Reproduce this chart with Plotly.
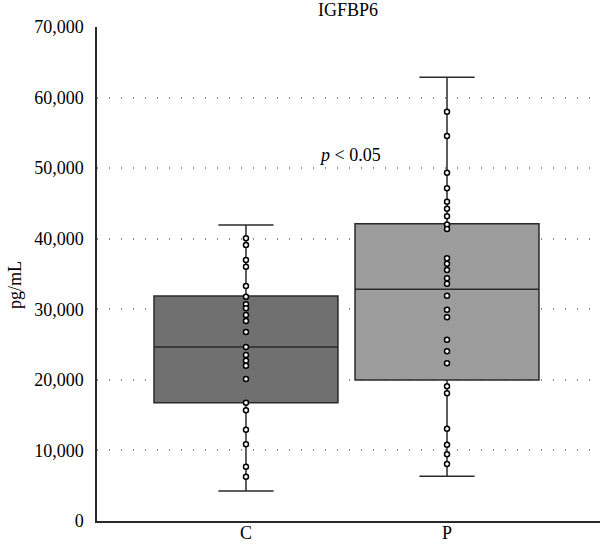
import plotly.graph_objects as go

categories = ["C", "P"]
cat_pos = [0, 1]

# box statistics (pg/mL)
q1 = [16760, 19980]
median = [24660, 32830]
q3 = [31880, 42130]
lower_whisker = [4250, 6330]
upper_whisker = [41940, 62870]

# individual data points
points_C = [40060, 39110, 36990, 36040, 33300, 31790, 30710, 30140, 29190, 28340,
            26780, 24660, 23520, 22720, 22010, 20120, 16770, 15690, 12940, 10870,
            7700, 6280]
points_P = [58000, 54560, 49360, 47140, 45250, 44260, 43180, 42000, 41380, 37230,
            36470, 35570, 34390, 33630, 31930, 29940, 28860, 25690, 24040, 22340,
            19090, 18100, 13080, 10810, 9450, 8080]

box_colors = ["#707070", "#9c9c9c"]
y_ticks = [0, 10000, 20000, 30000, 40000, 50000, 60000, 70000]
y_tick_text = ["0", "10,000", "20,000", "30,000", "40,000", "50,000", "60,000", "70,000"]

FONT = "Liberation Serif"

fig = go.Figure()
for i in range(2):
    fig.add_trace(go.Box(
        x=[cat_pos[i]], q1=[q1[i]], median=[median[i]], q3=[q3[i]],
        lowerfence=[lower_whisker[i]], upperfence=[upper_whisker[i]],
        width=0.915, whiskerwidth=0.3, fillcolor=box_colors[i],
        line=dict(color="#2a2a2a", width=1.5), boxpoints=False,
        showlegend=False, hoverinfo="skip"))

for i, pts in enumerate([points_C, points_P]):
    fig.add_trace(go.Scatter(
        x=[cat_pos[i]] * len(pts), y=pts, mode="markers",
        marker=dict(size=5, color="white", line=dict(color="black", width=1.5)),
        showlegend=False, hoverinfo="skip"))

# category labels below the x axis
for pos, lab in zip(cat_pos, categories):
    fig.add_annotation(x=pos, y=-0.0235, xref="x", yref="paper", text=lab,
                       showarrow=False, xanchor="center", yanchor="middle",
                       borderpad=0,
                       font=dict(family=FONT, size=18, color="black"))

fig.add_annotation(x=0.517, y=51900, xref="x", yref="y",
                   text="<i>p</i> < 0.05", showarrow=False,
                   font=dict(family=FONT, size=18, color="black"))
fig.add_annotation(x=-0.163, y=0.478, xref="paper", yref="paper",
                   text="pg/mL", textangle=-90, showarrow=False,
                   xanchor="center", yanchor="middle",
                   font=dict(family=FONT, size=18, color="#000000"))

fig.update_layout(
    width=600, height=545,
    margin=dict(l=97, r=0, t=27, b=24, autoexpand=False),
    paper_bgcolor="white", plot_bgcolor="white",
    font=dict(family=FONT, size=18, color="black"),
    title=dict(text="IGFBP6", x=0.58, xanchor="center", y=0.982, yanchor="middle",
               font=dict(family=FONT, size=18, color="black")),
    xaxis=dict(range=[-0.741, 1.761], tickvals=cat_pos, showticklabels=False,
               showgrid=False, zeroline=False, showline=True, linecolor="#2a2a2a",
               linewidth=1.5, ticks="", automargin=False),
    yaxis=dict(range=[0, 70000], tickvals=y_ticks, ticktext=y_tick_text,
               showgrid=True, gridcolor="#8a8a8a", griddash="1px,11px", gridwidth=1.5,
               zeroline=False, showline=True, linecolor="#2a2a2a", linewidth=1.5,
               ticks="", ticklabelstandoff=8, automargin=False),
)

fig.write_html("out.html")
